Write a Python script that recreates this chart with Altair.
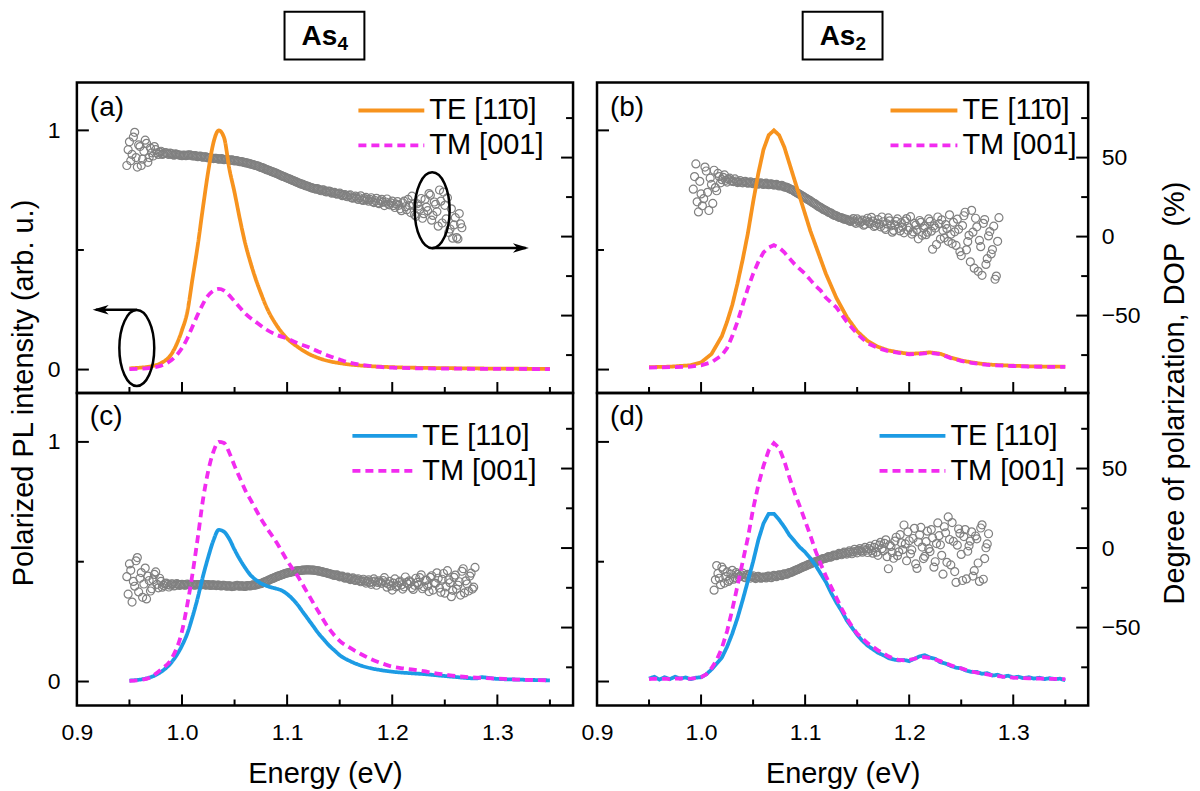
import altair as alt
import numpy as np
import pandas as pd

FONT = "Liberation Sans"
ORANGE = "#F7931E"
MAGENTA = "#F22BF0"
BLUE = "#1C9BE4"
GRAY = "#808080"

TE_110BAR = "TE [11\u03040]"
TE_110 = "TE [110]"
TM_001 = "TM [001]"

X_DOMAIN = [0.9, 1.372]
X_LABEL_VALUES = [0.9, 1.0, 1.1, 1.2, 1.3]
X_MAJOR = [1.0, 1.1, 1.2, 1.3]
X_MINOR = [0.95, 1.05, 1.15, 1.25, 1.35]
I_MAJOR = [0, 1]
I_MINOR = [0.5]
D_MAJOR = [-50, 0, 50]
D_MINOR = [-75, -25, 25, 75]
I_DOMAIN_TOP = [-0.098, 1.2]
I_DOMAIN_BOT = [-0.1, 1.204]
D_DOMAIN = [-99, 97.5]
DOP_STEP = 0.0025   # main DOP samples; *_MID lists sit half a step later

# ---------------- (a) As4, TE [1-10] / TM [001] ----------------
A_TE_E = [0.95, 0.96, 0.97, 0.98, 0.99, 1.00, 1.005, 1.01, 1.015, 1.02, 1.025, 1.03, 1.035, 1.04, 1.045,
          1.05, 1.055, 1.06, 1.065, 1.07, 1.075, 1.08, 1.09, 1.10, 1.11, 1.12, 1.13, 1.14, 1.15, 1.16,
          1.18, 1.20, 1.25, 1.30, 1.35]
A_TE_I = [0.005, 0.008, 0.013, 0.027, 0.065, 0.165, 0.24, 0.38, 0.52, 0.68, 0.83, 0.95, 1.0, 0.97, 0.84,
          0.74, 0.63, 0.53, 0.45, 0.38, 0.32, 0.265, 0.185, 0.13, 0.095, 0.067, 0.048, 0.035, 0.027, 0.021,
          0.014, 0.010, 0.006, 0.004, 0.003]
A_TM_E = [0.95, 0.96, 0.97, 0.98, 0.99, 1.00, 1.005, 1.01, 1.015, 1.02, 1.025, 1.03, 1.035, 1.04, 1.045,
          1.05, 1.055, 1.06, 1.07, 1.08, 1.09, 1.10, 1.11, 1.12, 1.13, 1.14, 1.15, 1.16, 1.17, 1.18,
          1.20, 1.25, 1.30, 1.35]
A_TM_I = [0.002, 0.003, 0.007, 0.016, 0.04, 0.09, 0.13, 0.18, 0.23, 0.275, 0.31, 0.33, 0.337, 0.33, 0.31,
          0.285, 0.26, 0.235, 0.2, 0.168, 0.145, 0.13, 0.11, 0.094, 0.075, 0.057, 0.042, 0.028, 0.02, 0.014,
          0.008, 0.004, 0.003, 0.002]
A_DOP_START = 0.9475
A_DOP = [45, 60, 52, 66, 44, 57, 49, 61, 47, 56,
         51, 55, 52, 54, 52.5, 53, 52, 52.5, 51.5, 52,
         51.6, 51.2, 51.4, 51.5, 51.8, 51, 51.3, 50.6, 50.9, 50.2,
         50.5, 49.8, 50, 49.4, 49.6, 49, 49.3, 48.7, 48.9, 48.3,
         48.5, 47.9, 48, 47.4, 47.3, 46.8, 46.5, 46, 45.6, 45,
         44.6, 43.8, 43.3, 42.5, 42, 41.2, 40.6, 40, 39.2, 38.4,
         37.8, 37, 36.4, 35.6, 35, 34.2, 33.5, 33, 32.2, 31.8,
         31, 30.6, 30, 29.8, 29, 29.5, 28.2, 28.8, 27.5, 28,
         26.8, 27.6, 25.9, 26.6, 25.2, 26.4, 24.3, 25.6, 23.5, 25.8,
         22.9, 24.8, 22.4, 24.6, 21.5, 24.2, 20.8, 23.6, 19.6, 23.8,
         20.1, 22.5, 18.4, 22.1, 17.6, 21.4, 18.9, 23.5, 15.2, 20.6,
         12.8, 19.3, 24.1, 14.5, 18.6, 27.2, 10.4, 21.9, 15.8, 29.5,
         8.6, 19.8, 24.6, 4.8, -1, 12, -1.5, 8]
A_DOP_MID = [55, 48, 63, 50, 58, 45, 54, 59, 50, 53,
             57, 53, 53.5, 52, 53.2, 52.4, 52.8, 51.8, 52.3, 51.8,
             51.4, 51.6, 51.2, 51.6, 51.4, 51.1, 50.9, 50.8, 50.5, 50.4,
             50.1, 50, 49.6, 49.5, 49.3, 49.1, 49, 48.8, 48.6, 48.4,
             48.2, 48.1, 47.7, 47.4, 47, 46.6, 46.2, 45.8, 45.3, 44.8,
             44.2, 43.6, 42.9, 42.2, 41.6, 40.9, 40.3, 39.6, 38.8, 38.1,
             37.4, 36.7, 36, 35.3, 34.6, 33.9, 33.2, 32.6, 32, 31.4,
             30.8, 30.3, 30.4, 29.4, 29.6, 28.6, 28.6, 28.4, 27.8, 27.2,
             27.2, 26.8, 26.2, 25.6, 25.9, 24.6, 24.9, 24.4, 24.6, 23.2,
             24, 23.4, 23.6, 22.2, 22.8, 21.4, 22.6, 21.8, 21.9, 20.6,
             21.4, 19.6, 20.6, 19.8, 16.4, 22.4, 17, 19.6, 25.6, 13.8,
             20.8, 17.2, 11.6, 23.6, 16.4, 26.2, 13.4, 20.4, 6.6, 22.4,
             28.2, 11.2, 2.6, 17.6, 7.4, -0.6, 14.6, 5.6]

# ---------------- (b) As2, TE [1-10] / TM [001] ----------------
B_TE_E = [0.95, 0.97, 0.99, 1.00, 1.01, 1.02, 1.025, 1.03, 1.035, 1.04, 1.045, 1.05, 1.055, 1.06, 1.065,
          1.07, 1.075, 1.08, 1.085, 1.09, 1.095, 1.10, 1.105, 1.11, 1.115, 1.12, 1.125, 1.13, 1.14, 1.15,
          1.16, 1.17, 1.18, 1.19, 1.20, 1.21, 1.22, 1.23, 1.24, 1.25, 1.26, 1.27, 1.28, 1.30, 1.32, 1.35]
B_TE_I = [0.01, 0.012, 0.018, 0.03, 0.065, 0.14, 0.2, 0.27, 0.36, 0.46, 0.57, 0.7, 0.82, 0.92, 0.98,
          1.0, 0.98, 0.93, 0.86, 0.79, 0.72, 0.65, 0.58, 0.52, 0.46, 0.4, 0.35, 0.3, 0.22, 0.16,
          0.12, 0.095, 0.08, 0.072, 0.066, 0.068, 0.072, 0.066, 0.05, 0.038, 0.03, 0.024, 0.02, 0.016, 0.013, 0.012]
B_TM_E = [0.95, 0.97, 0.99, 1.00, 1.01, 1.02, 1.025, 1.03, 1.035, 1.04, 1.045, 1.05, 1.055, 1.06, 1.065,
          1.07, 1.075, 1.08, 1.085, 1.09, 1.095, 1.10, 1.105, 1.11, 1.115, 1.12, 1.13, 1.14, 1.15, 1.16,
          1.17, 1.18, 1.19, 1.20, 1.21, 1.22, 1.23, 1.24, 1.25, 1.26, 1.27, 1.28, 1.30, 1.32, 1.35]
B_TM_I = [0.008, 0.01, 0.012, 0.018, 0.03, 0.06, 0.09, 0.14, 0.2, 0.27, 0.34, 0.4, 0.45, 0.49, 0.51,
          0.52, 0.51, 0.49, 0.465, 0.44, 0.42, 0.4, 0.375, 0.35, 0.33, 0.3, 0.26, 0.2, 0.15, 0.11,
          0.09, 0.077, 0.07, 0.064, 0.066, 0.07, 0.064, 0.048, 0.036, 0.028, 0.022, 0.018, 0.015, 0.012, 0.011]
B_DOP_START = 0.9925
B_DOP = [30, 46, 15.6, 27, 24, 41.5, 16.5, 33, 42, 29,
         38, 36, 39, 34.5, 37, 35, 36.5, 34.2, 35.5, 34,
         35, 33.8, 34.6, 33.5, 34.2, 33.2, 34, 33, 33.8, 32.8,
         33.4, 32.6, 33, 32, 32.4, 31.4, 31.2, 30.2, 29.6, 28.5,
         27.6, 26.6, 25.5, 24.6, 23.5, 22.6, 21.4, 20.5, 19.2, 18.4,
         17.2, 16.5, 15.4, 14.8, 13.6, 13.2, 12.2, 11.9, 11, 10.8,
         10, 10.5, 9.2, 11.2, 8.6, 10.4, 7.8, 11.6, 8.2, 9.8,
         7, 10.8, 6.2, 9.4, 4.5, 11.8, 6.8, 3.9, 9.6, 5.2,
         8.8, 2.4, 11.4, 5.6, 1.6, 8.4, 4.2, 10.2, 0.8, 6.6,
         2.8, 9.6, -8, 5.4, 12.4, -1.6, 3.8, 7.6, -3, 1.4,
         9, -5.6, 4.6, -12, 13.2, -8.4, 0.8, 16.6, -20, 6.2,
         -2.4, -24.5, 10.8, -14, 3.2, -8.2, -27, -3]
B_DOP_MID = [38, 22, 35, 19.5, 44, 28, 37, 21, 31, 40,
             34, 37.5, 35.6, 36.4, 35.4, 34.8, 35.2, 34.6, 34.4, 34.8,
             34.2, 34.1, 33.9, 34.0, 33.6, 33.7, 33.4, 33.5, 33.1, 33.2,
             32.9, 32.8, 32.5, 32.3, 31.9, 31.3, 30.7, 29.9, 29.1, 28.1,
             27.1, 26.1, 25.1, 24.1, 23.1, 22, 21, 19.9, 18.8, 17.8,
             16.9, 16, 15.1, 14.2, 13.4, 12.7, 12.1, 11.5, 11, 10.4,
             9.6, 11.4, 8.4, 10, 9.4, 7.2, 10, 9.2, 12.2, 6.4,
             8.4, 7.8, 12.4, 5.4, 8, 10, 2.8, 7.4, 11.2, 3.6,
             6, 9.8, 4, 12.6, 3, 7.2, -1.4, 9, 5.4, 1.2,
             11.2, 3.4, 6.8, -5, 8.2, 10.6, -0.8, 5, 13.8, -4.4,
             3, 11, -9.6, 7, 15.4, -3.2, -16, 2.8, 11.6, -22,
             -6.4, 8.4, -17.6, 0.4, -11, 6.6, -25, 12]

# ---------------- (c) As4, TE [110] / TM [001] ----------------
C_TE_E = [0.95, 0.96, 0.97, 0.98, 0.99, 1.00, 1.005, 1.01, 1.015, 1.02, 1.025, 1.03, 1.035, 1.04, 1.045,
          1.05, 1.055, 1.06, 1.065, 1.07, 1.075, 1.08, 1.085, 1.09, 1.095, 1.10, 1.105, 1.11, 1.115, 1.12,
          1.125, 1.13, 1.135, 1.14, 1.145, 1.15, 1.16, 1.17, 1.18, 1.19, 1.20, 1.21, 1.22, 1.23, 1.24,
          1.25, 1.26, 1.27, 1.28, 1.285, 1.29, 1.30, 1.32, 1.35]
C_TE_I = [0.004, 0.008, 0.018, 0.04, 0.08, 0.15, 0.2, 0.27, 0.35, 0.44, 0.52, 0.59, 0.633, 0.625, 0.595,
          0.55, 0.51, 0.475, 0.445, 0.425, 0.41, 0.4, 0.393, 0.387, 0.38, 0.365, 0.345, 0.32, 0.29, 0.26,
          0.23, 0.2, 0.175, 0.15, 0.13, 0.11, 0.085, 0.067, 0.055, 0.047, 0.041, 0.037, 0.034, 0.031, 0.027,
          0.023, 0.019, 0.015, 0.013, 0.018, 0.016, 0.011, 0.008, 0.005]
C_TM_E = [0.95, 0.96, 0.97, 0.98, 0.99, 1.00, 1.005, 1.01, 1.015, 1.02, 1.025, 1.03, 1.035, 1.04, 1.045,
          1.05, 1.055, 1.06, 1.065, 1.07, 1.075, 1.08, 1.09, 1.10, 1.11, 1.12, 1.13, 1.14, 1.15, 1.16,
          1.17, 1.18, 1.19, 1.20, 1.21, 1.22, 1.23, 1.24, 1.25, 1.26, 1.27, 1.28, 1.30, 1.32, 1.35]
C_TM_I = [0.003, 0.006, 0.018, 0.05, 0.095, 0.21, 0.32, 0.45, 0.6, 0.76, 0.88, 0.96, 1.0, 0.995, 0.955,
          0.9, 0.85, 0.8, 0.76, 0.72, 0.68, 0.645, 0.58, 0.505, 0.44, 0.365, 0.29, 0.22, 0.17, 0.14,
          0.115, 0.093, 0.076, 0.062, 0.055, 0.05, 0.043, 0.035, 0.029, 0.023, 0.019, 0.016, 0.012, 0.008, 0.005]
C_DOP_START = 0.9475
C_DOP = [-18, -10, -34, -24, -6, -19, -31, -12.6, -17.6, -27,
         -20, -15, -25, -21, -23.5, -22, -24.5, -22.5, -23.8, -22.4,
         -23.5, -22.8, -23.4, -22.6, -23.2, -22.8, -23.4, -22.9, -23.2, -22.7,
         -23.3, -23, -23.5, -23.1, -23.6, -23.3, -23.8, -23.5, -24, -23.7,
         -24.2, -23.9, -23.5, -24, -23.8, -24.1, -23.6, -23.8, -23.2, -23.3,
         -22.6, -22.4, -21.6, -21, -20.2, -19.4, -18.8, -18, -17.4, -16.8,
         -16.2, -15.7, -15.3, -14.9, -14.6, -14.3, -14.1, -13.9, -13.8, -13.7,
         -13.8, -13.9, -14.1, -14.4, -14.8, -15.2, -15.6, -16.1, -16.5, -17.2,
         -16.9, -18.1, -17.6, -19, -18.3, -19.8, -18.7, -20.4, -19.3, -21.2,
         -19.6, -22, -20, -22.8, -19.4, -23.4, -20.6, -22.2, -18.6, -24.6,
         -21, -26.4, -19.4, -23.6, -20.8, -25.8, -18.2, -22.6, -21.4, -26,
         -19, -23.2, -16.8, -24.4, -20.2, -27.4, -17.4, -22, -15.6, -25.2,
         -19.6, -28.4, -14.2, -21.8, -26.6, -17, -23.4, -29.6, -13, -20.6,
         -27, -15.8, -24.6]
C_DOP_MID = [-29, -14, -21, -8, -27.6, -15.4, -22.6, -32, -20.4, -25.6,
             -16.6, -22.8, -19, -24.6, -22.4, -23, -23.4, -22.6, -23.4, -22.8,
             -23.1, -23, -23.2, -22.9, -23.1, -23.2, -22.9, -23.2, -23, -23,
             -23.2, -23.3, -23.2, -23.4, -23.3, -23.6, -23.5, -23.7, -23.8, -23.9,
             -24, -23.7, -23.8, -23.7, -24, -23.8, -23.7, -23.5, -23.3, -23,
             -22.5, -22, -21.3, -20.6, -19.8, -19.1, -18.4, -17.7, -17.1, -16.5,
             -15.9, -15.5, -15.1, -14.8, -14.4, -14.2, -14, -13.8, -13.7, -13.8,
             -13.8, -14, -14.3, -14.6, -15, -15.4, -15.9, -16.3, -16.9, -17,
             -17.5, -17.8, -18.4, -18.6, -19.1, -19.2, -20, -19.8, -20.4, -20.6,
             -20.8, -21, -21.6, -21.2, -20.8, -21.6, -21.4, -20.4, -21.8, -22.6,
             -23.8, -22, -24.4, -21.6, -23.2, -24.4, -21.6, -20.6, -25, -23.4,
             -21.6, -18.6, -25.6, -20.4, -23.8, -18.4, -26.4, -22.2, -19, -27.8,
             -16, -24.4, -20, -30.6, -18.4, -25.8, -21.2, -14.6, -28.2, -22.6,
             -17.6, -25.8, -12.2]

# ---------------- (d) As2, TE [110] / TM [001] ----------------
D_E_START = 0.95
D_E_STEP = 0.005
D_TE_I = [0.012, 0.02, 0.008, 0.018, 0.01, 0.02, 0.012, 0.017, 0.01, 0.016,
          0.018, 0.03, 0.05, 0.075, 0.10, 0.145, 0.20, 0.265, 0.34, 0.42,
          0.50, 0.59, 0.66, 0.70, 0.70, 0.675, 0.645, 0.61, 0.585, 0.56,
          0.54, 0.515, 0.485, 0.45, 0.415, 0.37, 0.33, 0.295, 0.255, 0.225,
          0.195, 0.17, 0.15, 0.135, 0.12, 0.11, 0.098, 0.092, 0.088, 0.09,
          0.085, 0.095, 0.105, 0.11, 0.10, 0.095, 0.08, 0.075, 0.065, 0.058,
          0.055, 0.045, 0.04, 0.04, 0.032, 0.035, 0.025, 0.028, 0.02, 0.024,
          0.017, 0.02, 0.014, 0.018, 0.012, 0.016, 0.01, 0.014, 0.01, 0.012, 0.005]
D_TM_I = [0.01, 0.012, 0.01, 0.012, 0.01, 0.012, 0.013, 0.011, 0.012, 0.014,
          0.018, 0.03, 0.055, 0.09, 0.14, 0.21, 0.30, 0.40, 0.50, 0.60,
          0.72, 0.82, 0.90, 0.965, 0.995, 0.975, 0.92, 0.85, 0.785, 0.73,
          0.67, 0.61, 0.545, 0.49, 0.44, 0.395, 0.35, 0.305, 0.265, 0.23,
          0.20, 0.18, 0.16, 0.145, 0.13, 0.118, 0.105, 0.096, 0.09, 0.088,
          0.09, 0.095, 0.10, 0.102, 0.098, 0.092, 0.085, 0.076, 0.068, 0.06,
          0.055, 0.048, 0.042, 0.037, 0.033, 0.03, 0.026, 0.023, 0.02, 0.018,
          0.016, 0.015, 0.014, 0.013, 0.013, 0.012, 0.012, 0.011, 0.011, 0.01, 0.01]
D_DOP_START = 1.0125
D_DOP = [-26.5, -11, -19, -12, -22, -15, -20, -14, -18.5, -16.5,
         -17.8, -15.8, -18.6, -16.6, -18.9, -17.4, -19.2, -17.8, -19, -18.2,
         -18.8, -17.6, -18.6, -17.2, -18, -16.8, -17.4, -16.2, -16.4, -15.4,
         -15, -14.2, -13.6, -12.8, -12, -11.4, -10.6, -10, -9.2, -8.6,
         -8, -7.4, -6.6, -6.4, -5.4, -5.6, -4.4, -4.8, -3.4, -4.2,
         -2.6, -3.8, -1.8, -3.6, -0.8, -3, -0.4, -2.6, 0.4, -2.8,
         1.2, -3.2, 2.4, -4.6, 3.6, -1.8, 5.2, -13, 1, -6.4,
         6.8, -2.4, 3.2, 14.5, -8, 4.6, -1.2, 12.4, -12.8, 8.2,
         0.6, -5.2, 10.6, -2.2, 6.4, -8.6, 15.8, 2, -16.4, 9.6,
         19.6, -10.6, 4.2, -21.6, 12, -4, 7.2, -19.4, 1.4, 10.2,
         -14.2, 5.8, -21, 14.6, -6.6, 2.6]
D_DOP_MID = [-20, -16, -23, -13.5, -18, -21, -16.4, -19.6, -15.4, -18.2,
             -16.8, -18.2, -17.2, -17.8, -18, -18.6, -18.2, -18.6, -18.4, -18.4,
             -17.8, -18.2, -17.6, -17.6, -17.2, -17, -16.6, -16.4, -15.8, -15.4,
             -14.6, -13.8, -13.2, -12.4, -11.6, -11, -10.2, -9.6, -8.8, -8.4,
             -7.6, -7, -6.6, -5.8, -5.8, -5, -4.6, -4.2, -3.8, -3.4,
             -3.2, -2.8, -2.6, -2.4, -2, -1.4, -1.8, -0.6, -1.4, -0.4,
             -1.6, 0.4, -2.6, 1.8, -0.4, 3, -5.4, 2, -2.8, 4.4,
             -4.8, 8.4, -1, 2.6, 10.2, -3.6, 6, -10, 3.8, 13,
             -6.6, 4, -0.4, 11.6, -12, 2.8, 7.8, -4.6, 13.4, -9,
             5.4, 16, -14.8, 1.8, 9.2, -20.4, 11.6, -2, 4.4, -17.6,
             7.6, -9.4, 12.6, -19.6, 0.2, 9]
D_E = list(np.round(D_E_START + D_E_STEP * np.arange(len(D_TE_I)), 4))

# annotation anchors in panel (a) (data units)
ELLIPSE_E = [0.957, 1.238]
ELLIPSE_I = [0.09, 0.666]
ARROW_LEFT = dict(E1=0.957, E2=0.918, I=0.25, HEAD=0.9226)
ARROW_RIGHT = dict(E1=1.238, E2=1.327, I=0.508, HEAD=1.3224)

W_L, W_R, H_T, H_B = 497, 492, 311, 313

ELLIPSE_PATH = ("M 0 -1 C 0.254 -1 0.46 -0.552 0.46 0 C 0.46 0.552 0.254 1 0 1 "
                "C -0.254 1 -0.46 0.552 -0.46 0 C -0.46 -0.552 -0.254 -1 0 -1 Z")
HEAD_LEFT = "M -1 0 L 1 -0.6 L 0.45 0 L 1 0.6 Z"
HEAD_RIGHT = "M 1 0 L -1 -0.6 L -0.45 0 L -1 0.6 Z"


def blank():
    return alt.Chart(alt.Data(values=[{}]))


def text(t, x, y, size=28, weight="normal", align="left", baseline="middle", angle=0):
    return blank().mark_text(text=t, font=FONT, fontSize=size, fontWeight=weight, align=align,
                             baseline=baseline, angle=angle, color="black").encode(
        x=alt.value(x), y=alt.value(y))


def dop_frame(start, vals, mids):
    e_main = np.round(start + DOP_STEP * np.arange(len(vals)), 5)
    e_mid = np.round(start + DOP_STEP / 2 + DOP_STEP * np.arange(len(mids)), 5)
    return pd.DataFrame({"E": np.concatenate([e_main, e_mid]),
                         "DOP": list(vals) + list(mids)})


def panel(tag, te_label, te_color, te_e, te_i, tm_e, tm_i, dop_df,
          width, height, idom, left, bottom, interp, leg_x0, leg_x1, leg_y, extras=None):
    xs = alt.Scale(domain=X_DOMAIN, nice=False, zero=False)
    isc = alt.Scale(domain=idom, nice=False, zero=False)
    dsc = alt.Scale(domain=D_DOMAIN, nice=False, zero=False)
    if bottom:
        xaxis = alt.Axis(values=X_LABEL_VALUES, format=".1f", ticks=False, tickSize=0, domain=False,
                         grid=False, labelFontSize=23, labelPadding=16, labelFlush=False,
                         labelOverlap=False, title="Energy (eV)", titleFontSize=29, titlePadding=15,
                         titleFontWeight="normal")
    else:
        xaxis = None
    iaxis = alt.Axis(values=I_MAJOR, format=".0f", ticks=False, tickSize=0, domain=False, grid=False,
                     labelFontSize=23, labelPadding=17, title=None, orient="left") if left else None
    daxis = None if left else alt.Axis(
        values=D_MAJOR, labelExpr="datum.value < 0 ? '\u2212' + abs(datum.value) : datum.label",
        ticks=False, tickSize=0, domain=False, grid=False, labelFontSize=23, labelPadding=13,
        title=None, orient="right")

    def X(field="E:Q"):
        return alt.X(field, scale=xs, axis=xaxis)

    lines = pd.DataFrame({
        "E": list(te_e) + list(tm_e),
        "I": list(te_i) + list(tm_i),
        "series": [te_label] * len(te_e) + [TM_001] * len(tm_e),
    })

    layers = []
    layers.append(alt.Chart(dop_df).mark_point(shape="circle", filled=False, size=64, color=GRAY,
                                               strokeWidth=1.2, opacity=1).encode(
        x=X(), y=alt.Y("DOP:Q", scale=dsc, axis=daxis)))
    layers.append(alt.Chart(lines).mark_line(strokeWidth=3.8, interpolate=interp).encode(
        x=X(), y=alt.Y("I:Q", scale=isc, axis=iaxis),
        color=alt.Color("series:N", scale=alt.Scale(domain=[te_label, TM_001], range=[te_color, MAGENTA]),
                        legend=None),
        strokeDash=alt.StrokeDash("series:N", scale=alt.Scale(domain=[te_label, TM_001],
                                                              range=[[1, 0], [8, 5]]), legend=None)))
    # inward ticks
    for vals, L in ((X_MAJOR, 11), (X_MINOR, 6)):
        layers.append(alt.Chart(pd.DataFrame({"E": vals})).mark_rule(color="black", strokeWidth=2).encode(
            x=X(), y=alt.value(height), y2=alt.value(height - L)))
    for vals, L in ((I_MAJOR, 12), (I_MINOR, 7)):
        layers.append(alt.Chart(pd.DataFrame({"I": vals})).mark_rule(color="black", strokeWidth=2).encode(
            y=alt.Y("I:Q", scale=isc, axis=None), x=alt.value(0), x2=alt.value(L)))
    for vals, L in ((D_MAJOR, 12), (D_MINOR, 7)):
        layers.append(alt.Chart(pd.DataFrame({"D": vals})).mark_rule(color="black", strokeWidth=2).encode(
            y=alt.Y("D:Q", scale=dsc, axis=None), x=alt.value(width), x2=alt.value(width - L)))
    # panel tag
    layers.append(text(tag, 13, 26 if not bottom else 24))
    # legend
    layers.append(blank().mark_rule(color=te_color, strokeWidth=3.8).encode(
        x=alt.value(leg_x0), x2=alt.value(leg_x1), y=alt.value(leg_y)))
    layers.append(blank().mark_rule(color=MAGENTA, strokeWidth=3.8, strokeDash=[8, 5]).encode(
        x=alt.value(leg_x0), x2=alt.value(leg_x1), y=alt.value(leg_y + 35)))
    layers.append(text(te_label, leg_x1 + 5, leg_y, size=29))
    layers.append(text(TM_001, leg_x1 + 5, leg_y + 35, size=29))
    if extras is not None:
        layers.extend(extras(X, isc))
    return alt.layer(*layers).resolve_scale(y="independent").properties(width=width, height=height)


def extras_a(X, isc):
    out = []
    ell = pd.DataFrame({"E": ELLIPSE_E, "I": ELLIPSE_I})
    out.append(alt.Chart(ell).mark_point(shape=ELLIPSE_PATH, size=5776, filled=False, color="black",
                                         strokeWidth=2.5, opacity=1).encode(
        x=X(), y=alt.Y("I:Q", scale=isc, axis=None)))
    arr = pd.DataFrame([ARROW_LEFT, ARROW_RIGHT])
    out.append(alt.Chart(arr).mark_rule(color="black", strokeWidth=2.5).encode(
        x=X(), x2="E2:Q", y=alt.Y("I:Q", scale=isc, axis=None)).transform_calculate(E="datum.E1"))
    for d, shp in ((ARROW_LEFT, HEAD_LEFT), (ARROW_RIGHT, HEAD_RIGHT)):
        out.append(alt.Chart(pd.DataFrame({"E": [d["HEAD"]], "I": [d["I"]]})).mark_point(
            shape=shp, size=256, filled=True, color="black", opacity=1, strokeWidth=0).encode(
            x=X(), y=alt.Y("I:Q", scale=isc, axis=None)))
    out.append(blank().mark_rect(fill="white", fillOpacity=0, stroke="black", strokeWidth=2).encode(
        x=alt.value(208), x2=alt.value(288), y=alt.value(-71), y2=alt.value(-23)))
    out.append(text("As", 225, -38, size=28, weight="bold", baseline="alphabetic"))
    out.append(text("4", 261, -33, size=19, weight="bold", baseline="alphabetic"))
    return out


def extras_b(X, isc):
    return [
        blank().mark_rect(fill="white", fillOpacity=0, stroke="black", strokeWidth=2).encode(
            x=alt.value(206), x2=alt.value(286), y=alt.value(-71), y2=alt.value(-23)),
        text("As", 223, -38, size=28, weight="bold", baseline="alphabetic"),
        text("2", 259, -33, size=19, weight="bold", baseline="alphabetic"),
    ]


def extras_c(X, isc):
    return [text("Polarized PL intensity (arb. u.)", -53, 0, size=29, align="center", angle=270)]


def extras_d(X, isc):
    return [text("Degree of polarization, DOP\u00a0 (%)", 579, 0, size=29, align="center", angle=270)]


pa = panel("(a)", TE_110BAR, ORANGE, A_TE_E, A_TE_I, A_TM_E, A_TM_I,
           dop_frame(A_DOP_START, A_DOP, A_DOP_MID),
           W_L, H_T, I_DOMAIN_TOP, True, False, "monotone", 282, 348, 28, extras_a)
pb = panel("(b)", TE_110BAR, ORANGE, B_TE_E, B_TE_I, B_TM_E, B_TM_I,
           dop_frame(B_DOP_START, B_DOP, B_DOP_MID),
           W_R, H_T, I_DOMAIN_TOP, False, False, "linear", 294, 361, 28, extras_b)
pc = panel("(c)", TE_110, BLUE, C_TE_E, C_TE_I, C_TM_E, C_TM_I,
           dop_frame(C_DOP_START, C_DOP, C_DOP_MID),
           W_L, H_B, I_DOMAIN_BOT, True, True, "monotone", 276, 341, 43, extras_c)
pd_ = panel("(d)", TE_110, BLUE, D_E, D_TE_I, D_E, D_TM_I,
            dop_frame(D_DOP_START, D_DOP, D_DOP_MID),
            W_R, H_B, I_DOMAIN_BOT, False, True, "linear", 283, 349, 43, extras_d)

chart = alt.concat(pa, pb, pc, pd_, columns=2, spacing={"row": 0, "column": 24},
                   bounds="flush").resolve_scale(
    color="independent", strokeDash="independent").properties(padding=0).configure_view(
    stroke="black", strokeWidth=2.5).configure_axis(
    labelFont=FONT, titleFont=FONT, labelColor="black", titleColor="black")

chart.save("out.html", embed_options={"renderer": "svg", "actions": False})
